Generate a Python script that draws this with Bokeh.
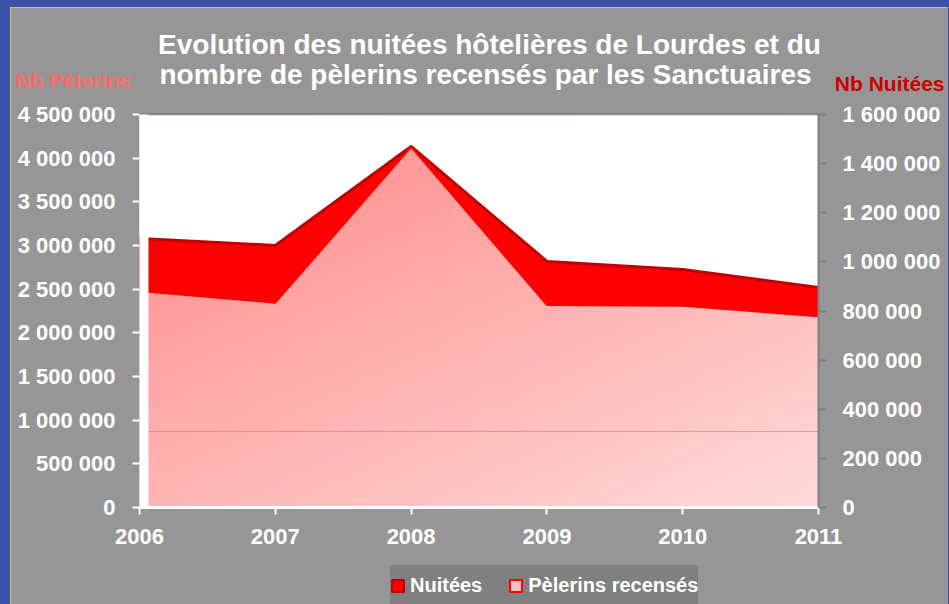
import numpy as np
from bokeh.plotting import figure
from bokeh.models import (Range1d, LinearAxis, FixedTicker, Label, BoxAnnotation,
                          Legend, LegendItem, ColumnDataSource)
from bokeh.embed import file_html
from bokeh.resources import INLINE

# ---------------- data ----------------
years = [2006, 2007, 2008, 2009, 2010, 2011]
pelerins = [2480000, 2345000, 4130000, 2320000, 2310000, 2190000]   # left axis
nuitees = [1095000, 1067000, 1470000, 1002000, 969000, 896000]      # right axis

left_ticks = [0, 500000, 1000000, 1500000, 2000000, 2500000, 3000000, 3500000, 4000000, 4500000]
left_tick_labels = ["0", "500 000", "1 000 000", "1 500 000", "2 000 000", "2 500 000",
                    "3 000 000", "3 500 000", "4 000 000", "4 500 000"]
right_ticks = [0, 200000, 400000, 600000, 800000, 1000000, 1200000, 1400000, 1600000]
right_tick_labels = ["0", "200 000", "400 000", "600 000", "800 000", "1 000 000",
                     "1 200 000", "1 400 000", "1 600 000"]
year_labels = ["2006", "2007", "2008", "2009", "2010", "2011"]

title_lines = ["Evolution des nuitées hôtelières de Lourdes et du",
               "nombre de pèlerins recensés par les Sanctuaires"]
left_title = "Nb Pèlerins"
right_title = "Nb Nuitées"
series_names = ["Nuitées", "Pèlerins recensés"]

LEFT_MAX = 4500000
RIGHT_MAX = 1600000
FACTOR = LEFT_MAX / RIGHT_MAX

FONT = "Liberation Sans"
GRAY = "#969696"

# ---------------- layout (pixels inside the canvas) ----------------
W, H = 938, 597
PL, PR, PT, PB = 129, 808, 107, 500          # plot area edges (from canvas left / top)
x_per_px = (years[-1] - years[0]) / (PR - PL)
yl_per_px = LEFT_MAX / (PB - PT)
yr_per_px = RIGHT_MAX / (PB - PT)

x_range = Range1d(years[0] - PL * x_per_px, years[-1] + (W - PR) * x_per_px)
y_range = Range1d(-(H - PB) * yl_per_px, LEFT_MAX + PT * yl_per_px)
y_right = Range1d(-(H - PB) * yr_per_px, RIGHT_MAX + PT * yr_per_px)

p = figure(width=W, height=H, output_backend="svg", toolbar_location=None,
           x_range=x_range, y_range=y_range, min_border=0,
           background_fill_color=GRAY, border_fill_color=GRAY, outline_line_color=None)
p.styles = {"outline": "3px solid #ffff00", "outline-offset": "-3px"}
p.extra_y_ranges = {"right": y_right}
p.xgrid.visible = False
p.ygrid.visible = False

# gradient fill for the Pèlerins area (diagonal pink gradient)
n = 64
gx, gy = np.meshgrid(np.linspace(0, 1, n), np.linspace(0, 1, n))  # gy: 0 bottom -> 1 top
gb = 134 + 37 * gx + 46.5 * (1 - gy)
img = np.zeros((n, n), dtype=np.uint32)
view = img.view(dtype=np.uint8).reshape((n, n, 4))
view[:, :, 0] = 255
view[:, :, 1] = gb.astype(np.uint8)
view[:, :, 2] = gb.astype(np.uint8)
view[:, :, 3] = 255
p.image_rgba(image=[img], x=years[0], y=0, dw=years[-1] - years[0], dh=LEFT_MAX)

nuit_left = [v * FACTOR for v in nuitees]
p.varea(x=years, y1=pelerins, y2=nuit_left, fill_color="#ff0000")
p.varea(x=years, y1=nuitees, y2=[RIGHT_MAX] * len(years), fill_color="white",
        y_range_name="right")
p.line(years, nuitees, line_color="#c00000", line_width=3, y_range_name="right")
p.line(years, pelerins, line_color="#ff0000", line_width=2)

# thin line across the plot area, black top edge, white left strip
p.add_layout(BoxAnnotation(left=years[0], right=years[-1], bottom=870000, top=870000,
                           fill_alpha=0, line_color="#e06060", line_width=1))
p.add_layout(BoxAnnotation(left=years[0], right=years[-1], bottom=LEFT_MAX, top=LEFT_MAX,
                           fill_alpha=0, line_color="black", line_width=2))
p.add_layout(BoxAnnotation(left=years[0], right=years[0] + 9 * x_per_px,
                           bottom=0, top=LEFT_MAX,
                           fill_color="white", fill_alpha=1, line_color=None))

# ---------------- axes ----------------
def style_axis(ax, tick_color):
    ax.major_label_text_font = FONT
    ax.major_label_text_font_style = "bold"
    ax.major_label_text_font_size = "22px"
    ax.major_label_text_color = "white"
    ax.minor_tick_line_color = None
    ax.major_tick_line_color = tick_color
    ax.major_tick_line_width = 2
    ax.major_tick_in = 0

yl = p.yaxis[0]
yl.fixed_location = years[0]
yl.bounds = (0, LEFT_MAX)
yl.ticker = FixedTicker(ticks=left_ticks)
yl.major_label_overrides = dict(zip(left_ticks, left_tick_labels))
style_axis(yl, "white")
yl.major_tick_out = 7
yl.major_label_standoff = 17
yl.axis_line_color = None

yr = LinearAxis(y_range_name="right", fixed_location=years[-1], bounds=(0, RIGHT_MAX))
yr.ticker = FixedTicker(ticks=right_ticks)
yr.major_label_overrides = dict(zip(right_ticks, right_tick_labels))
style_axis(yr, "#808080")
yr.major_tick_out = 8
yr.major_label_standoff = 16
yr.axis_line_color = "#808080"
yr.axis_line_width = 2
p.add_layout(yr, "right")

xa = p.xaxis[0]
xa.fixed_location = 0
xa.bounds = (years[0], years[-1])
xa.ticker = FixedTicker(ticks=years)
xa.major_label_overrides = dict(zip(years, year_labels))
style_axis(xa, "white")
xa.major_tick_out = 7
xa.major_label_standoff = 14
xa.axis_line_color = "white"
xa.axis_line_width = 3

# ---------------- texts ----------------
def label(x, y, text, align, size, color):
    p.add_layout(Label(x=x, y=y, x_units="screen", y_units="screen", text=text,
                       text_align=align, text_baseline="alphabetic", text_font=FONT,
                       text_font_style="bold", text_font_size=size, text_color=color))

label(479, 560, title_lines[0], "center", "28px", "white")
label(475, 530, title_lines[1], "center", "28px", "white")
label(5, 524, left_title, "left", "21px", "#ff6b6b")
label(934, 521, right_title, "right", "21px", "#cc0000")

# ---------------- legend ----------------
nan_src1 = ColumnDataSource(dict(l=[np.nan], r=[np.nan], t=[np.nan], b=[np.nan]))
nan_src2 = ColumnDataSource(dict(l=[np.nan], r=[np.nan], t=[np.nan], b=[np.nan]))
r1 = p.quad(left="l", right="r", top="t", bottom="b", source=nan_src1,
            fill_color="#ff0000", line_color="#c00000", line_width=2)
r2 = p.quad(left="l", right="r", top="t", bottom="b", source=nan_src2,
            fill_color="#ffc4c4", line_color="#ff0000", line_width=2)
legend = Legend(items=[LegendItem(label=series_names[0], renderers=[r1]),
                       LegendItem(label=series_names[1], renderers=[r2])],
                orientation="horizontal", location=(380, -1),
                background_fill_color="#808080", background_fill_alpha=1,
                border_line_color=None, label_text_color="white",
                label_text_font=FONT, label_text_font_style="bold",
                label_text_font_size="20px", glyph_width=15, glyph_height=15,
                label_height=40, label_standoff=5, spacing=26, padding=8, margin=0)
p.add_layout(legend, "center")

html = file_html(p, INLINE, title="Lourdes")
html = html.replace("</head>",
                    "<style>html,body{background:#3d50aa !important;}"
                    "body{padding:7px 0 0 10px !important;}</style></head>", 1)
open("out.html", "w").write(html)
